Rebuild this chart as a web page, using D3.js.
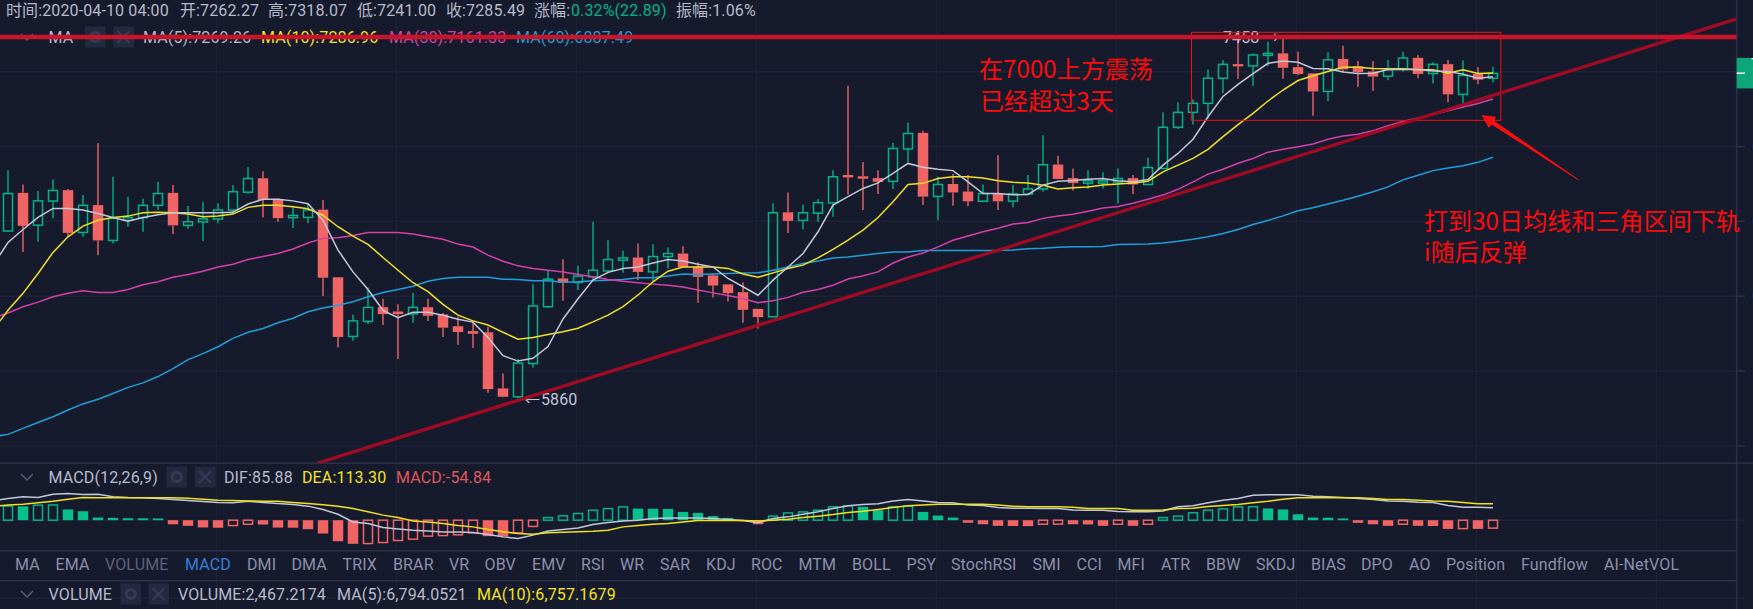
<!DOCTYPE html>
<html><head><meta charset="utf-8">
<script src="https://cdn.jsdelivr.net/npm/d3@7/dist/d3.min.js"></script>
<style>html,body{margin:0;padding:0;background:#161a2d;overflow:hidden}svg{display:block}
text{font-family:Roboto,"Noto Sans CJK SC",sans-serif;font-size:16px;letter-spacing:.12px}</style></head><body>
<script>
const opens=[6555,6725,6581,6688,6737,6549,6670,6514,6603,6614,6669,6725,6580,6595,6608,6648,6728,6791,6693,6614,6615,6650,6355,6108,6170,6229,6211,6201,6229,6199,6150,6130,6125,5899,5866,5998,6231,6350,6333,6357,6382,6428,6440,6378,6444,6457,6399,6363,6325,6292,6222,6189,6638,6602,6634,6680,6806,6800,6792,6777,6926,7001,6709,6765,6731,6687,6720,6688,6720,6743,6854,6792,6769,6769,6774,6792,6763,6836,7027,7098,7141,7262,7331,7322,7374,7384,7316,7286,7198,7356,7321,7295,7272,7305,7362,7285,7331,7184,7283,7262.27];
const highs=[6828,6763,6733,6786,6742,6715,6952,6798,6708,6698,6775,6760,6666,6685,6678,6760,6841,6823,6700,6660,6680,6693,6355,6197,6312,6264,6241,6288,6264,6205,6189,6168,6148,5958,6016,6325,6385,6432,6404,6596,6515,6469,6501,6497,6483,6489,6419,6371,6325,6334,6222,6678,6727,6673,6696,6828,7226,6865,6828,6955,7050,7011,6798,6810,6806,6763,6897,6760,6806,6990,6894,6836,6828,6818,6836,6806,6885,7098,7146,7160,7305,7351,7450,7384,7442,7458,7392,7286,7389,7422,7346,7346,7351,7392,7376,7340,7351,7350,7316,7318.07];
const lows=[6555,6464,6508,6612,6530,6530,6450,6501,6574,6552,6648,6542,6565,6512,6589,6633,6722,6615,6596,6569,6589,6276,6063,6090,6159,6155,6016,6164,6172,6106,6074,6061,5882,5864,5860,5982,6226,6256,6301,6343,6374,6374,6343,6336,6393,6399,6248,6270,6253,6164,6141,6189,6547,6562,6595,6618,6718,6648,6720,6742,6866,6670,6603,6667,6665,6685,6648,6660,6715,6730,6787,6736,6742,6745,6677,6720,6760,6832,7019,7040,7069,7190,7259,7226,7322,7259,7276,7082,7151,7292,7219,7200,7252,7295,7262,7237,7146,7117,7233,7241];
const closes=[6722,6578,6689,6736,6547,6669,6514,6611,6615,6669,6722,6580,6596,6609,6648,6730,6790,6693,6612,6624,6648,6353,6106,6172,6228,6200,6200,6228,6193,6144,6126,6119,5896,5866,6000,6234,6347,6332,6360,6385,6431,6438,6378,6444,6457,6399,6357,6320,6288,6218,6188,6636,6600,6636,6681,6798,6795,6789,6775,6928,6998,6708,6763,6727,6687,6722,6687,6720,6743,6853,6788,6769,6780,6780,6790,6763,6840,7027,7098,7141,7262,7330,7320,7376,7384,7313,7283,7198,7352,7305,7292,7270,7303,7361,7283,7330,7184,7276,7255,7285.49];
// moving averages and MACD lines: the first value belongs to the bar just left of the window
const ma5=[6406,6505,6562,6615,6655,6655,6648,6633,6615,6598,6615,6627,6636,6636,6636,6636,6638,6675,6696,6696,6689,6676,6603,6472,6378,6303,6216,6185,6208,6208,6195,6179,6167,6104,6030,6008,6019,6067,6180,6264,6343,6376,6393,6399,6416,6431,6425,6411,6399,6350,6315,6279,6343,6399,6457,6552,6670,6708,6745,6770,6813,6859,6841,6832,6826,6775,6722,6722,6716,6718,6760,6778,6781,6787,6790,6780,6775,6785,6851,6905,6971,7077,7174,7232,7285,7335,7346,7340,7310,7308,7292,7285,7286,7305,7305,7305,7297,7295,7282,7262,7269.26];
const ma10=[6134,6216,6287,6371,6462,6530,6577,6603,6615,6621,6636,6638,6636,6630,6618,6622,6630,6660,6669,6669,6663,6654,6625,6574,6533,6497,6440,6385,6332,6294,6241,6196,6172,6155,6125,6097,6104,6116,6127,6142,6168,6196,6231,6280,6336,6381,6399,6399,6399,6393,6369,6355,6374,6393,6407,6438,6475,6515,6559,6615,6685,6763,6768,6790,6798,6798,6792,6780,6773,6770,6759,6742,6748,6752,6760,6765,6770,6778,6820,6851,6882,6924,6983,7040,7093,7152,7205,7251,7274,7295,7316,7316,7310,7308,7308,7303,7304,7286,7303,7285,7286.96];
const ma30=[6183,6205,6231,6250,6273,6287,6298,6291,6291,6303,6323,6336,6355,6367,6381,6399,6411,6431,6444,6457,6477,6503,6523,6526,6536,6549,6549,6549,6542,6530,6519,6498,6485,6450,6424,6404,6393,6385,6378,6367,6357,6346,6338,6332,6326,6321,6314,6301,6289,6278,6265,6248,6256,6270,6292,6303,6321,6348,6362,6378,6416,6442,6459,6486,6515,6533,6552,6567,6586,6593,6611,6622,6629,6643,6657,6664,6678,6696,6715,6741,6775,6810,6832,6860,6882,6911,6924,6936,6949,6971,6986,6994,7011,7034,7054,7071,7087,7105,7123,7140,7161.33];
const ma60=[5711,5720,5743,5766,5788,5814,5838,5856,5879,5903,5921,5946,5978,6014,6038,6066,6100,6125,6141,6164,6183,6210,6226,6237,6252,6273,6291,6303,6317,6338,6350,6355,6355,6355,6347,6346,6340,6340,6334,6336,6340,6342,6346,6353,6353,6361,6369,6367,6369,6371,6373,6374,6385,6399,6414,6425,6438,6442,6450,6457,6464,6464,6470,6470,6470,6470,6470,6470,6472,6478,6480,6484,6486,6486,6488,6496,6497,6498,6503,6510,6519,6530,6544,6562,6584,6602,6622,6645,6658,6675,6692,6710,6730,6752,6784,6805,6826,6838,6848,6864,6887.49];
const macdHist=[97,96,104,105,74,62,18,16,14,13,12,-28,-39,-50,-52,-37,-28,-30,-51,-52,-62,-92,-145,-163,-161,-154,-140,-131,-110,-106,-101,-87,-110,-112,-87,-43,18,30,46,69,80,92,80,79,78,57,50,28,16,-6,-28,28,50,57,69,92,99,92,69,92,97,57,32,18,-18,-28,-39,-40,-41,-28,-27,-28,-29,-39,-28,-39,-28,18,28,51,69,78,92,93,81,74,41,18,17,12,-18,-28,-39,-28,-39,-40,-60,-58,-60,-54.84];
const dif=[133,150,161,156,179,184,177,179,161,156,154,150,143,136,129,122,120,131,122,115,108,97,74,41,-12,-23,-51,-60,-69,-74,-81,-81,-85,-99,-115,-126,-103,-74,-64,-53,-30,-16,-5,0,12,16,16,16,12,5,-2,-18,12,23,41,58,80,99,108,113,133,143,133,122,120,104,101,87,83,83,81,81,71,69,69,60,58,58,64,92,99,120,138,150,172,175,175,175,166,161,156,150,143,133,131,124,122,101,90,90,85.88];
const dea=[97,104,110,120,131,145,156,154,154,154,154,154,154,152,145,138,136,133,131,131,122,115,106,97,80,58,35,18,-5,-12,-23,-37,-46,-64,-80,-92,-97,-87,-83,-80,-76,-69,-46,-37,-28,-23,-12,-2,-2,-2,-2,-5,0,7,18,28,39,53,62,74,87,99,104,110,110,110,110,104,97,92,92,92,90,81,81,81,69,69,71,80,83,94,101,108,120,131,145,154,154,154,154,154,150,143,143,138,133,131,122,113,113.30];
const priceTicks=[7294,6937,6598,6275,5968,5676];
const gridIndex=[14,26,38,50,62,74,86,98,110];
const menuItems=["MA","EMA","VOLUME","MACD","DMI","DMA","TRIX","BRAR","VR","OBV","EMV","RSI","WR","SAR","KDJ","ROC","MTM","BOLL","PSY","StochRSI","SMI","CCI","MFI","ATR","BBW","SKDJ","BIAS","DPO","AO","Position","Fundflow","AI-NetVOL"];
const menuX=[15,55.5,105,185,247,291.5,342.5,393,449,484.5,532,581,620,660,706,751,798.5,852,906.5,951,1032.5,1076.5,1117.5,1161,1206,1256,1311,1361,1409,1446,1521,1604];
const headerRow=[["时间:2020-04-10 04:00",6,"g"],["开:7262.27",180,"g"],["高:7318.07",268,"g"],["低:7241.00",357,"g"],["收:7285.49",446,"g"],["涨幅:",534,"g"],["0.32%(22.89)",571,"u"],["振幅:1.06%",676,"g"]];
const maRow=[["MA",48.6,"g"],["MA(5):7269.26",143,"g"],["MA(10):7286.96",261,"y"],["MA(30):7161.33",389,"p"],["MA(60):6887.49",516,"b"]];
const macdRow=[["MACD(12,26,9)",48.6,"g"],["DIF:85.88",224,"g"],["DEA:113.30",302,"y"],["MACD:-54.84",396,"r"]];
const volRow=[["VOLUME",48.6,"g"],["VOLUME:2,467.2174",178,"g"],["MA(5):6,794.0521",337,"g"],["MA(10):6,757.1679",477,"y"]];
const extremeRow=[["←",524,405],["5860",541,405],["7458 →",1223,43]];
const notes=[["在7000上方震荡",979,77.5],["已经超过3天",980,110],["打到30日均线和三角区间下轨",1424,230],["i随后反弹",1424,261]];
const resistancePrice=7465.5;
const trendLine=[[20.64,5611],[115.2,7555]];
const boxIdx=[78.9,99.52], boxPrice=[7489,7060];
const arrowTail=[104.7,6784], arrowTip=[98.23,7085];

const W=1753,H=609,axisX=1736.7;
const BG="#161a2d",GRID="#1d2237",SEP="#2a3048",UP="#00b487",UPF="#05c08a",DOWN="#f06464";
const TC={g:"#b6bacb",u:"#00b487",y:"#f5e31b",p:"#d63fa8",b:"#1f9fd8",r:"#e0575a"};
const x=d3.scaleLinear().domain([0,99]).range([8,1493]);
const y=d3.scaleLog().domain([5860,7458]).range([398.3,38.5]);
const ym=d3.scaleLinear().domain([0,100]).range([520.2,505.7]);
const idx=d3.range(100);
const svg=d3.select("body").append("svg").attr("width",W).attr("height",H);
svg.append("rect").attr("width",W).attr("height",H).attr("fill",BG);
const defs=svg.append("defs");
defs.append("clipPath").attr("id","cm").append("rect").attr("width",axisX).attr("height",463);
defs.append("clipPath").attr("id","cd").append("rect").attr("y",464).attr("width",axisX).attr("height",86);

// grid
const g=svg.append("g");
g.selectAll(".v").data(gridIndex).join("line").attr("x1",d=>x(d)-1.5).attr("x2",d=>x(d)-1.5).attr("y1",0).attr("y2",H).attr("stroke",GRID).attr("stroke-width",1.5);
g.selectAll(".h").data(priceTicks).join("line").attr("x1",0).attr("x2",1745).attr("y1",d=>y(d)).attr("y2",d=>y(d)).attr("stroke",GRID).attr("stroke-width",1.5);
[ym(0),598.3].forEach(v=>g.append("line").attr("x1",0).attr("x2",1745).attr("y1",v).attr("y2",v).attr("stroke",GRID).attr("stroke-width",1.5));
[463.3,550.7,580.7].forEach((v,k)=>g.append("line").attr("x1",0).attr("x2",k==0?W:axisX).attr("y1",v).attr("y2",v).attr("stroke",SEP).attr("stroke-width",1.4));
g.append("line").attr("x1",axisX).attr("x2",axisX).attr("y1",0).attr("y2",H).attr("stroke",SEP).attr("stroke-width",1.6);
// axis ticks and the price labels, which run past the window edge as in the source screenshot
const ax=svg.append("g");
ax.selectAll("line").data(priceTicks.slice(1)).join("line").attr("x1",axisX).attr("x2",1745).attr("y1",d=>y(d)).attr("y2",d=>y(d)).attr("stroke",SEP).attr("stroke-width",1.4);
ax.selectAll("text").data(priceTicks.slice(1)).join("text").attr("x",1752).attr("y",d=>y(d)+5).attr("fill","#9a9eb3").text(d=>d);

// candles
const cm=svg.append("g").attr("clip-path","url(#cm)");
const bw=9,col=i=>closes[i]>=opens[i]?UP:DOWN;
const wickTop=cm.append("g"),wickBot=cm.append("g"),body=cm.append("g");
wickTop.selectAll("line").data(idx).join("line").attr("x1",i=>x(i)).attr("x2",i=>x(i)).attr("y1",i=>y(highs[i])).attr("y2",i=>y(Math.max(opens[i],closes[i]))).attr("stroke",col).attr("stroke-width",1.4);
wickBot.selectAll("line").data(idx).join("line").attr("x1",i=>x(i)).attr("x2",i=>x(i)).attr("y1",i=>y(Math.min(opens[i],closes[i]))).attr("y2",i=>y(lows[i])).attr("stroke",col).attr("stroke-width",1.4);
body.selectAll("rect").data(idx).join("rect").attr("x",i=>x(i)-(closes[i]>=opens[i]?bw/2:bw/2+.75)).attr("width",i=>closes[i]>=opens[i]?bw:bw+1.5)
 .attr("y",i=>y(Math.max(opens[i],closes[i]))).attr("height",i=>Math.max(1,Math.abs(y(opens[i])-y(closes[i]))))
 .attr("fill",i=>closes[i]>=opens[i]?"none":DOWN).attr("stroke",i=>closes[i]>=opens[i]?UP:"none").attr("stroke-width",1.5);
// moving averages
const lineM=d3.line().x((d,i)=>x(i-1)).y(d=>y(d));
[[ma60,"#1f9fd8"],[ma30,"#d63fa8"],[ma10,"#f2e21c"],[ma5,"#c3c7da"]].forEach(([s,c])=>cm.append("path").attr("d",lineM(s)).attr("fill","none").attr("stroke",c).attr("stroke-width",1.5));

// MACD
const cd=svg.append("g").attr("clip-path","url(#cd)");
const hollow=i=>i==0||macdHist[i]>=macdHist[i-1];
const mcol=i=>macdHist[i]>=0?UPF:DOWN;
cd.selectAll("rect").data(idx).join("rect")
 .attr("x",i=>x(i)-(hollow(i)?4.5:5.25)).attr("width",i=>hollow(i)?9:10.5)
 .attr("y",i=>Math.min(ym(0),ym(macdHist[i]))).attr("height",i=>Math.max(1,Math.abs(ym(macdHist[i])-ym(0))))
 .attr("fill",i=>hollow(i)?"none":mcol(i)).attr("stroke",i=>hollow(i)?(macdHist[i]>=0?UP:DOWN):"none").attr("stroke-width",1.5);
const lineD=d3.line().x((d,i)=>x(i-1)).y(d=>ym(d));
[[dif,"#c3c7da"],[dea,"#f2e21c"]].forEach(([s,c])=>cd.append("path").attr("d",lineD(s)).attr("fill","none").attr("stroke",c).attr("stroke-width",1.5));

// extreme labels
svg.append("g").selectAll("text").data(extremeRow).join("text").attr("x",d=>d[1]).attr("y",d=>d[2]).attr("fill","#c3c7da").text(d=>d[0]);

// legends
function row(data,by){svg.append("g").selectAll("text").data(data).join("text").attr("x",d=>d[1]).attr("y",by).attr("fill",d=>TC[d[2]]).text(d=>d[0]);}
row(headerRow,16);row(maRow,43);row(macdRow,483);row(volRow,600);
function chev(cy){svg.append("path").attr("d",`M21 ${cy-3}L27 ${cy+3}L33 ${cy-3}`).attr("fill","none").attr("stroke","#5c6178").attr("stroke-width",1.3);}
[37,477,594].forEach(chev);
function icons(bx1,bx2,cy){
 [bx1,bx2].forEach(b=>svg.append("rect").attr("x",b).attr("y",cy-10.5).attr("width",20.5).attr("height",21).attr("fill","#232a40"));
 svg.append("circle").attr("cx",bx1+10.2).attr("cy",cy).attr("r",4.5).attr("fill","none").attr("stroke","#343b53").attr("stroke-width",3);
 svg.append("path").attr("d",`M${bx2+4} ${cy-6}L${bx2+16} ${cy+6}M${bx2+16} ${cy-6}L${bx2+4} ${cy+6}`).attr("stroke","#343b53").attr("stroke-width",2.4);
}
icons(85,113.5,37);icons(166.5,195,477);icons(120.5,148.5,594);
svg.append("g").selectAll("text").data(menuItems).join("text").attr("x",(d,i)=>menuX[i]).attr("y",570)
 .attr("fill",d=>d=="MACD"?"#2f7fdb":d=="VOLUME"?"#5d6279":"#8c90aa").text(d=>d);

// last price tag
const tagY=y(closes[99]);
svg.append("rect").attr("x",axisX).attr("y",tagY-15.5).attr("width",W-axisX).attr("height",30.5).attr("fill","#0da678");
svg.append("line").attr("x1",axisX).attr("x2",1745).attr("y1",y(priceTicks[0])+1.5).attr("y2",y(priceTicks[0])+1.5).attr("stroke","#fff").attr("stroke-width",1.4);
svg.append("text").attr("x",1751).attr("y",tagY-3).attr("fill","#fff").text(closes[99]);

// annotations
const an=svg.append("g").attr("clip-path","url(#cm)");
an.append("rect").attr("x",x(boxIdx[0])).attr("y",y(boxPrice[0])).attr("width",x(boxIdx[1])-x(boxIdx[0])).attr("height",y(boxPrice[1])-y(boxPrice[0])).attr("fill","none").attr("stroke","#f01010").attr("stroke-width",1);
an.append("line").attr("x1",x(trendLine[0][0])).attr("y1",y(trendLine[0][1])).attr("x2",x(trendLine[1][0])).attr("y2",y(trendLine[1][1])).attr("stroke","#a00b24").attr("stroke-width",3.4);
an.append("line").attr("x1",0).attr("x2",axisX).attr("y1",y(resistancePrice)).attr("y2",y(resistancePrice)).attr("stroke","#c8152b").attr("stroke-width",4.6);
// tapered arrow built from its two scaled end points
(function(){
 const tx=x(arrowTail[0]),ty=y(arrowTail[1]),px=x(arrowTip[0]),py=y(arrowTip[1]);
 const L=Math.hypot(px-tx,py-ty),ux=(px-tx)/L,uy=(py-ty)/L,nx=-uy,ny=ux;
 const at=(d,w)=>[px-ux*d+nx*w,py-uy*d+ny*w];
 const pts=[at(L,.4),at(14,2.2),at(13,6.5),[px,py],at(13,-6.5),at(14,-2.2),at(L,-.4)];
 an.append("polygon").attr("points",pts.map(p=>p.join(",")).join(" ")).attr("fill","#f50f0f");
})();
svg.append("g").selectAll("text").data(notes).join("text").attr("x",d=>d[1]).attr("y",d=>d[2]).attr("fill","#ff0a0a").style("font-size","24px").style("letter-spacing",".1px").style("font-family",'"Noto Sans CJK SC",sans-serif').text(d=>d[0]);
</script></body></html>
